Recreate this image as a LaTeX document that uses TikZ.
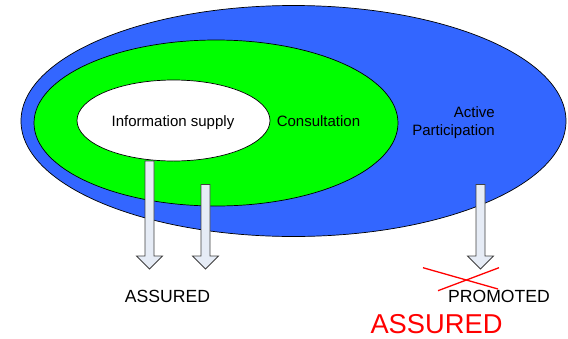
\documentclass[tikz,border=0pt]{standalone}
\usepackage{fontspec}
\setmainfont{Liberation Sans}
\usetikzlibrary{shapes.geometric}
\definecolor{pblue}{HTML}{3366FF}
\definecolor{pgreen}{HTML}{00FF00}
\definecolor{afill}{HTML}{E6ECF6}
\definecolor{aline}{HTML}{404040}
\definecolor{pred}{HTML}{FF0000}
\newcommand\blkarrow[2]{%
  \draw[arrowbox] ({#1-4.5},#2) -- ({#1+4.5},#2) -- ({#1+4.5},256) -- ({#1+13},256)
    -- (#1,269) -- ({#1-13},256) -- ({#1-4.5},256) -- cycle;}
\begin{document}
\begin{tikzpicture}[x=1pt,y=-1pt,
  ring/.style={ellipse, draw=black, line width=0.7pt, inner sep=0pt},
  arrowbox/.style={draw=aline, fill=afill, line width=0.8pt, line join=miter},
  lbl/.style={font=\fontsize{15}{18}\selectfont, anchor=base, inner sep=0pt},
  big/.style={font=\fontsize{17.6}{20}\selectfont, anchor=base, inner sep=0pt},
  cross/.style={draw=pred, line width=1.3pt}]
\useasboundingbox (0,0) rectangle (568,338);
\node[ring, fill=pblue, minimum width=545pt, minimum height=231pt] (outer) at (293.5,121) {};
\node[ring, fill=pgreen, minimum width=364pt, minimum height=166pt] (mid) at (216,123) {};
\node[ring, fill=white, minimum width=193pt, minimum height=81pt] (inner) at (173.5,120.5) {};
\blkarrow{149.5}{161}
\blkarrow{205.5}{184.5}
\blkarrow{480.5}{184.5}
\node[lbl] (tinfo) at (173,126.5) {Information supply};
\node[lbl] (tcons) at (318.5,126.5) {Consultation};
\node[lbl, anchor=base east] (tact) at (495,117) {Active};
\node[lbl, anchor=base east] (tpart) at (495,135.5) {Participation};
\node[big] (assured) at (167.5,302.3) {ASSURED};
\node[big] (promoted) at (499,302.2) {PROMOTED};
\coordinate (c1) at (423,267.7);
\coordinate (c2) at (498,289);
\coordinate (c3) at (438,290.7);
\coordinate (c4) at (499,267.7);
\draw[cross] (c1) -- (c2);
\draw[cross] (c3) -- (c4);
\node[anchor=base, inner sep=0pt, text=pred, font=\fontsize{27.3}{30}\selectfont] (rassured) at (436.5,333.3) {ASSURED};
\end{tikzpicture}
\end{document}
